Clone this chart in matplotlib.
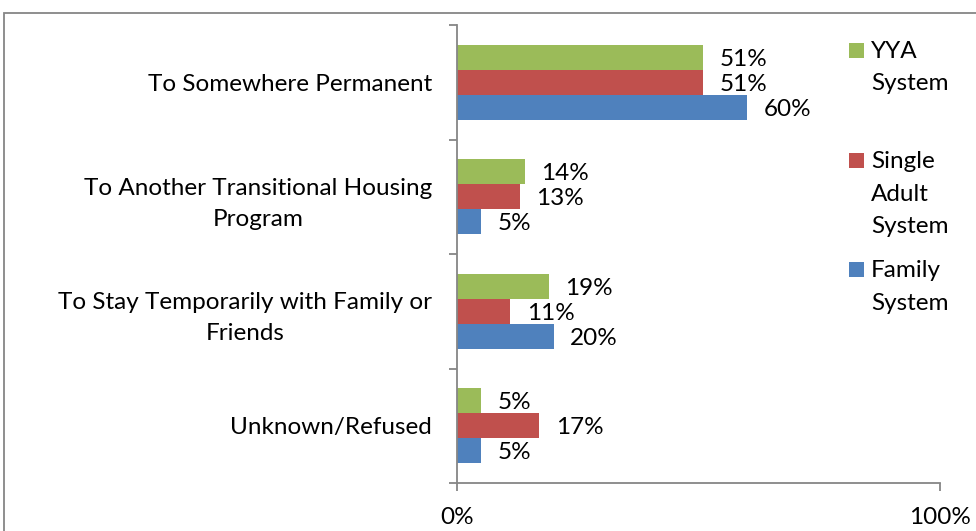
import matplotlib
matplotlib.use("Agg")
import matplotlib.pyplot as plt
from matplotlib.patches import Rectangle
import numpy as np

plt.rcParams['font.family'] = ['Lato', 'DejaVu Sans']

categories = ["To Somewhere Permanent",
              "To Another Transitional Housing\nProgram",
              "To Stay Temporarily with Family or\nFriends",
              "Unknown/Refused"]
series_names = ["YYA System", "Single Adult System", "Family System"]
legend_labels = ["YYA\nSystem", "Single\nAdult\nSystem", "Family\nSystem"]
yya = [51, 14, 19, 5]
single = [51, 13, 11, 17]
family = [60, 5, 20, 5]
colors = ["#9BBB59", "#C0504D", "#4F81BD"]
x_ticks = [0, 100]
x_tick_labels = ["0%", "100%"]

W, H = 976, 531
fig = plt.figure(figsize=(W/100, H/100), dpi=100)
ax = fig.add_axes([457/W, 1-483/H, (940-457)/W, (483-25)/H])

gray = "#868686"
FS = 17.5
bh = 25/114.5
y = np.arange(len(categories))
for k, (vals, col) in enumerate(zip([yya, single, family], colors)):
    bars = ax.barh(y + (k-1)*bh, vals, height=bh, color=col, edgecolor='none')
    texts = ax.bar_label(bars, labels=[f"{v}%" for v in vals], padding=12,
                         fontsize=FS, color='#000000')
    for t in texts:
        t.set_verticalalignment('center_baseline')

ax.set_xlim(0, 100)
ax.set_ylim(len(categories)-0.5, -0.5)
for s in ['top', 'right']:
    ax.spines[s].set_visible(False)
for s in ['left', 'bottom']:
    ax.spines[s].set_color(gray)
    ax.spines[s].set_linewidth(1.3)

ax.set_xticks(x_ticks)
ax.set_xticklabels(x_tick_labels, fontsize=FS)
ax.tick_params(axis='x', length=6, width=1.3, color=gray, pad=11)

ax.set_yticks(y)
ax.set_yticklabels(categories, fontsize=FS, multialignment='center', linespacing=1.6)
ax.tick_params(axis='y', which='major', length=0, pad=18)
ax.set_yticks(np.arange(len(categories)+1)-0.5, minor=True)
ax.tick_params(axis='y', which='minor', length=6, width=1.3, color=gray)

# legend
leg_x_sq = 849
leg_x_txt = 871
first_base = [58, 168, 277]
line_h = 32.5
for lab, col, b in zip(legend_labels, colors, first_base):
    fig.add_artist(Rectangle((leg_x_sq/W, 1-b/H), 15/W, 15/H,
                             transform=fig.transFigure, color=col, lw=0))
    for i, line in enumerate(lab.split("\n")):
        fig.text(leg_x_txt/W, 1-(b + i*line_h)/H, line, fontsize=FS,
                 va='baseline', ha='left')

# outer chart frame
fig.add_artist(Rectangle((4/W, -0.1), 1.0, 1-13/H+0.1, transform=fig.transFigure,
                         fill=False, ec=gray, lw=1.3))

fig.savefig("out.png", dpi=100)
